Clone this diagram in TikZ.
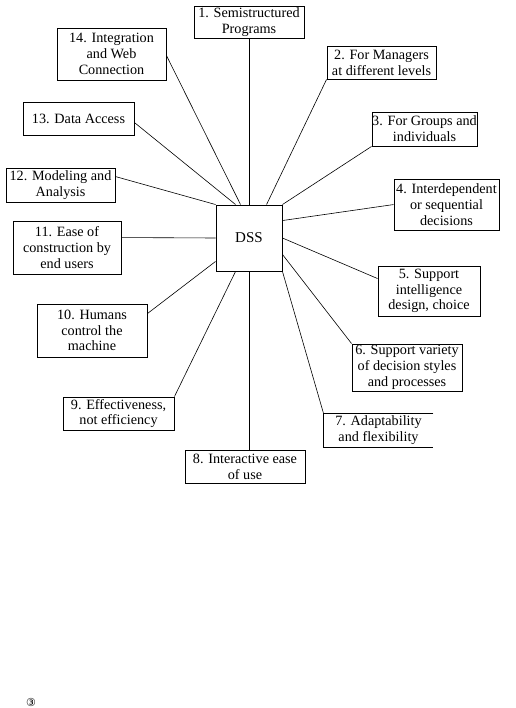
\documentclass[tikz,border=0pt]{standalone}
\usepackage{fontspec}
\setmainfont{Liberation Serif}
\newfontfamily\symfont{DejaVu Sans}
\begin{document}
\begin{tikzpicture}[x=1pt,y=-1pt,
  box/.style={draw=black,line width=0.9pt,inner sep=0pt,align=center,
    font=\fontsize{14.2}{15.8}\selectfont},
  link/.style={draw=black,line width=0.6pt}]
\fill[white] (0,0) rectangle (515,708);
\useasboundingbox (0,0) rectangle (515,708);
\node[box,minimum width=66pt,minimum height=66pt,font=\fontsize{15}{17}\selectfont] (dss) at (249,238) {DSS};
\node[box,minimum width=110pt,minimum height=32pt] (b1) at (249,22) {1. Semistructured\\Programs};
\node[box,minimum width=109pt,minimum height=33pt] (b2) at (381.5,62.5) {2. For Managers\\at different levels};
\node[box,minimum width=105pt,minimum height=34pt] (b3) at (424.5,129) {3. For Groups and\\individuals};
\node[box,minimum width=105pt,minimum height=51pt] (b4) at (446.5,204.5) {4. Interdependent\\or sequential\\decisions};
\node[box,minimum width=102pt,minimum height=50pt] (b5) at (429,291) {5. Support\\intelligence\\design, choice};
\node[box,minimum width=110pt,minimum height=47pt] (b6) at (407,367.5) {6. Support variety\\of decision styles\\and processes};
\node[box,draw=none,minimum width=109pt,minimum height=33pt] (b7) at (378.5,430.5) {7. Adaptability\\and flexibility};
\draw[line width=0.9pt] (b7.north east) -- (b7.north west) -- (b7.south west) -- (b7.south east);
\node[box,minimum width=120pt,minimum height=33pt] (b8) at (245,466.5) {8. Interactive ease\\of use};
\node[box,minimum width=111pt,minimum height=33pt] (b9) at (118.5,413.5) {9. Effectiveness,\\not efficiency};
\node[box,minimum width=110pt,minimum height=53pt] (b10) at (92,330.5) {10. Humans\\control the\\machine};
\node[box,minimum width=108pt,minimum height=53pt] (b11) at (67,247.5) {11. Ease of\\construction by\\end users};
\node[box,minimum width=109pt,minimum height=34pt] (b12) at (60.5,185) {12. Modeling and\\Analysis};
\node[box,minimum width=111pt,minimum height=33pt] (b13) at (78.5,118.5) {13. Data Access};
\node[box,minimum width=109pt,minimum height=52pt] (b14) at (111.5,54) {14. Integration\\and Web\\Connection};
\node[font=\symfont\fontsize{11}{13}\selectfont,inner sep=0pt] (c3) at (31,702) {③};
\draw[link] (b1.south) -- (dss.north);
\draw[link] (b2.south west) -- ([xshift=51pt]dss.north west);
\draw[link] (b3.south west) -- (dss.north east);
\draw[link] ([yshift=-26pt]b4.north west) -- ([yshift=-16pt]dss.north east);
\draw[link] ([yshift=-13pt]b5.north west) -- (dss.east);
\draw[link] (b6.north west) -- ([yshift=17pt]dss.south east);
\draw[link] (b7.north west) -- (dss.south east);
\draw[link] (dss.south) -- (dss.south |- b8.north);
\draw[link] (b9.north east) -- ([xshift=20pt]dss.south west);
\draw[link] ([yshift=-10pt]b10.north east) -- ([yshift=10pt]dss.south west);
\draw[link] ([yshift=-17pt]b11.north east) -- (dss.west);
\draw[link] ([yshift=-9pt]b12.north east) -- (dss.north west);
\draw[link] ([yshift=-21pt]b13.north east) -- ([xshift=20pt]dss.north west);
\draw[link] ([yshift=-28pt]b14.north east) -- ([xshift=25pt]dss.north west);
\end{tikzpicture}
\end{document}
